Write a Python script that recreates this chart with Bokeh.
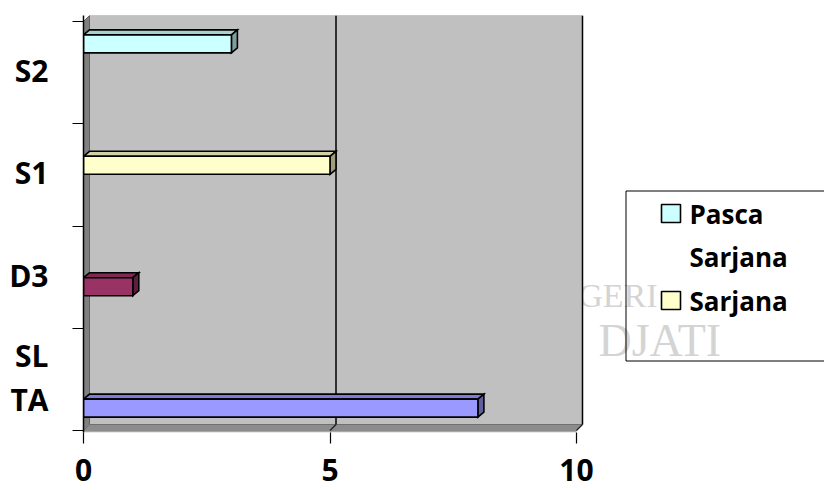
from bokeh.plotting import figure
from bokeh.models import Range1d, FixedTicker
from bokeh.embed import file_html
from bokeh.resources import INLINE
from bokeh.core.properties import value

# ---------------- data ----------------
categories = ["SLTA", "D3", "S1", "S2"]
category_label_lines = [["SL", "TA"], ["D3"], ["S1"], ["S2"]]
series_names = ["SLTA", "D3", "Sarjana", "Pasca Sarjana"]
slta_values = [8, 0, 0, 0]
d3_values = [0, 1, 0, 0]
sarjana_values = [0, 0, 5, 0]
pasca_sarjana_values = [0, 0, 0, 3]
series_values = [slta_values, d3_values, sarjana_values, pasca_sarjana_values]
series_colors = ["#9999FF", "#993366", "#FFFFCC", "#CCFFFF"]
x_ticks = [0, 5, 10]
legend_series = ["Pasca Sarjana", "Sarjana"]
legend_label_lines = [["Pasca", "Sarjana"], ["Sarjana"]]
watermark_lines = ["NEGERI", "DJATI"]

FONT = "Open Sans"

# ---------------- geometry ----------------
W, H = 824, 490
FL, FT, FB = 83, 15, 432                   # frame edges (px)
PX_X = 493 / 10                            # px per value unit
PX_Y = 409 / len(categories)               # px per category band
Y0 = 430                                   # px of category-axis origin
x_max = x_ticks[-1]
ncat = len(categories)
nser = len(series_names)
x_end = (W - FL) / PX_X
y_start = -(FB - Y0) / PX_Y
y_end = ncat + (21 - FT) / PX_Y
wdx, wdy = 6 / PX_X, 6 / PX_Y              # wall depth
bdx, bdy = 6 / PX_X, 5 / PX_Y              # bar depth
cluster = 0.75
slot = cluster / nser
bar_h = 18 / PX_Y


def to_dx(px):
    return (px - FL) / PX_X


def to_dy(py):
    return (Y0 - py) / PX_Y


def shade(hexcol, f):
    h = hexcol.lstrip("#")
    r, g, b = (int(h[i:i + 2], 16) for i in (0, 2, 4))
    return "#%02x%02x%02x" % (int(r * f), int(g * f), int(b * f))


p = figure(width=W, height=H,
           x_range=Range1d(0, x_end), y_range=Range1d(y_start, y_end),
           output_backend="svg", toolbar_location=None,
           min_border_left=FL, min_border_right=0,
           min_border_top=FT, min_border_bottom=H - FB)
p.outline_line_color = None
p.background_fill_color = "white"
p.border_fill_color = "white"
p.xgrid.grid_line_color = None
p.ygrid.grid_line_color = None

# faint background watermark of the source page (partly hidden by the chart)
p.text(x=[to_dx(657)], y=[to_dy(295)], text=[watermark_lines[0]],
       text_font=value("Liberation Serif"), text_font_size="34px",
       text_align="right", text_baseline="alphabetic", text_color="#D4D4D4")
p.text(x=[to_dx(598)], y=[to_dy(340)], text=[watermark_lines[1]],
       text_font=value("Liberation Serif"), text_font_size="46px",
       text_align="left", text_baseline="alphabetic", text_color="#D4D4D4")

# walls and floor
p.quad(left=wdx, right=x_max + wdx, bottom=wdy, top=ncat + wdy,
       fill_color="#C0C0C0", line_color="#A0A0A0", line_width=1)
p.patch([0, wdx, wdx, 0], [0, wdy, ncat + wdy, ncat],
        fill_color="#808080", line_color="#606060", line_width=1)
p.patch([0, x_max, x_max + wdx, wdx], [0, 0, wdy, wdy],
        fill_color="#8C8C8C", line_color="#707070", line_width=1)
p.quad(left=0, right=x_max, bottom=y_start, top=0,
       fill_color="#A8A8A8", line_color=None)

# gridlines on back wall and floor
for t in x_ticks[1:]:
    p.line([t + wdx, t + wdx], [wdy, ncat + wdy], line_color="black", line_width=1.5)
    p.line([t, t + wdx], [0, wdy], line_color="#202020", line_width=1.2)

# 3D bars
fx, fy, fc = [], [], []
tx, ty, tc = [], [], []
sx, sy, sc = [], [], []
for j, (vals, col) in enumerate(zip(series_values, series_colors)):
    off = (1 - cluster) / 2 + slot * (j + 0.5)
    for c, v in enumerate(vals):
        if v <= 0:
            continue
        b = c + off - bar_h / 2
        t = c + off + bar_h / 2
        fx.append([0, v, v, 0]); fy.append([b, b, t, t]); fc.append(col)
        tx.append([0, v, v + bdx, bdx]); ty.append([t, t, t + bdy, t + bdy]); tc.append(shade(col, 0.82))
        sx.append([v, v + bdx, v + bdx, v]); sy.append([b, b + bdy, t + bdy, t]); sc.append(shade(col, 0.62))

for xs, ys, cs in ((tx, ty, tc), (sx, sy, sc), (fx, fy, fc)):
    p.patches(xs=xs, ys=ys, fill_color=cs, line_color="black", line_width=1.6,
              line_join="miter")

# ---------------- axes ----------------
label_pos, label_txt = [], []
for c, lines in enumerate(category_label_lines):
    n = len(lines)
    for k, line in enumerate(lines):
        yy = c + 0.5 + 0.02 + (0 if n == 1 else (0.215 if k == 0 else -0.215))
        yy = round(yy, 4)
        label_pos.append(yy)
        label_txt.append(line)

p.yaxis.ticker = FixedTicker(ticks=label_pos, minor_ticks=list(range(ncat + 1)))
p.yaxis.major_label_overrides = {yy: t for yy, t in zip(label_pos, label_txt)}
p.yaxis.major_tick_out = 0
p.yaxis.major_tick_in = 0
p.yaxis.minor_tick_out = 11
p.yaxis.minor_tick_in = 0
p.yaxis.minor_tick_line_color = "black"
p.yaxis.minor_tick_line_width = 1.2
p.yaxis.major_label_standoff = 24
p.yaxis.axis_line_color = "black"
p.yaxis.axis_line_width = 1.5

p.xaxis.ticker = FixedTicker(ticks=x_ticks)
p.xaxis.major_tick_out = 11
p.xaxis.major_tick_in = 0
p.xaxis.minor_tick_out = 0
p.xaxis.minor_tick_in = 0
p.xaxis.major_tick_line_color = "black"
p.xaxis.major_tick_line_width = 1.2
p.xaxis.axis_line_color = None
p.xaxis.major_label_standoff = 15

for ax in (p.xaxis, p.yaxis):
    ax.major_label_text_font = FONT
    ax.major_label_text_font_size = "30px"
    ax.major_label_text_font_style = "bold"
    ax.major_label_text_color = "black"

# ---------------- legend (drawn in plot space) ----------------
LB_L, LB_T, LB_B = 625, 190, 361
p.line([x_end + 1, to_dx(LB_L + 0.5), to_dx(LB_L + 0.5), x_end + 1],
       [to_dy(LB_B - 0.5), to_dy(LB_B - 0.5), to_dy(LB_T + 0.5), to_dy(LB_T + 0.5)],
       line_color="black", line_width=1)

row_py = [213, 256, 300]
k = 0
for name, lines in zip(legend_series, legend_label_lines):
    col = series_colors[series_names.index(name)]
    p.rect(x=[to_dx(670.5)], y=[to_dy(row_py[k])], width=19, height=18,
           width_units="screen", height_units="screen",
           fill_color=col, line_color="black", line_width=1.6)
    for line in lines:
        p.text(x=[to_dx(689)], y=[to_dy(row_py[k])], text=[line], text_font=value(FONT),
               text_font_size="26px", text_font_style="bold",
               text_align="left", text_baseline="middle", text_color="black")
        k += 1

open("out.html", "w").write(file_html(p, INLINE))
